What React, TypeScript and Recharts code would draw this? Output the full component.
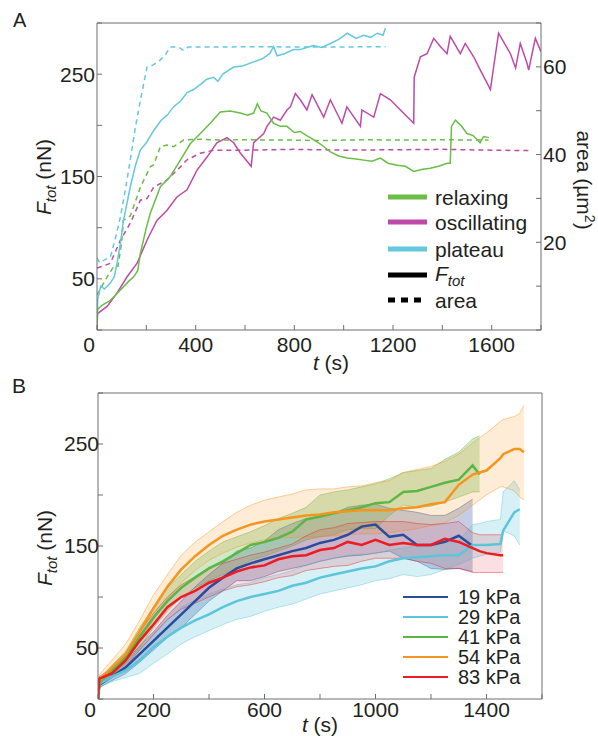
import React from 'react';
import { ComposedChart, Line, Area, XAxis, YAxis } from 'recharts';

const INK = '#231f20';
const AXIS = '#6d6e71';
const FONT = '"Liberation Sans", Arial, Helvetica, sans-serif';

// ---- panel A: single-cell traces (t in s, F in nN, area in um^2)
const GREEN_A = '#6abd45';
const MAGENTA_A = '#bd4aa8';
const CYAN_A = '#64c8df';

const plateauT = [0, 3, 15, 30, 54, 70, 81, 95, 107, 120, 135, 155, 176, 200, 230, 260, 285, 310, 340, 365, 392, 420, 445, 473, 490, 510, 554, 590, 635, 670, 700, 716, 730, 760, 797, 824, 850, 878, 910, 946, 980, 1015, 1050, 1081, 1110, 1136, 1160, 1169];
const plateauF = [0, 30, 43, 40, 46, 52, 65, 85, 107, 122, 140, 160, 176, 183, 195, 205, 210, 218, 224, 232, 235, 240, 245, 247, 243, 250, 257, 258, 262, 265, 270, 277, 268, 270, 274, 274, 276, 278, 276, 280, 284, 290, 285, 288, 286, 290, 288, 295];
const plateauAreaT = [0, 12, 30, 54, 75, 95, 115, 135, 155, 176, 203, 230, 257, 280, 297, 330, 350, 370, 400, 500, 600, 700, 800, 900, 1000, 1100, 1170];
const plateauArea = [16.4, 15.3, 16, 16.6, 21, 25.8, 32, 38.8, 46, 52.4, 60, 60.5, 61.6, 63, 64.5, 64.5, 63.8, 64.5, 64.5, 64.5, 64.6, 64.6, 64.5, 64.5, 64.5, 64.6, 64.6];

const relaxT = [0, 2, 20, 54, 95, 130, 149, 165, 176, 200, 216, 257, 297, 338, 378, 419, 459, 500, 540, 581, 610, 635, 650, 665, 689, 716, 743, 770, 800, 824, 850, 878, 910, 946, 980, 1015, 1050, 1081, 1115, 1149, 1180, 1217, 1250, 1284, 1320, 1351, 1385, 1419, 1432, 1437, 1453, 1475, 1500, 1525, 1541, 1553, 1567, 1589];
const relaxF = [0, 20, 24, 29, 39, 48, 52, 58, 75, 100, 114, 140, 150, 166, 182, 192, 202, 213, 214, 212, 210, 212, 221, 214, 212, 202, 199, 199, 193, 194, 190, 186, 181, 174, 170, 168, 167, 166, 165, 168, 163, 161, 160, 155, 157, 158, 160, 163, 163, 199, 205, 200, 192, 190, 186, 183, 189, 188];
const relaxAreaT = [0, 20, 40, 67, 85, 100, 107, 135, 160, 176, 216, 230, 257, 284, 310, 351, 419, 500, 600, 700, 800, 900, 1000, 1100, 1200, 1300, 1400, 1500, 1587];
const relaxArea = [8, 10, 12, 14.4, 14.5, 20, 25, 26, 30, 32.6, 37.2, 37.7, 41.8, 42.2, 41.8, 43.3, 43.5, 43.3, 43.4, 43.3, 43.3, 43.2, 43.3, 43.4, 43.3, 43.3, 43.4, 43.3, 43.3];

const oscT = [0, 2, 41, 81, 122, 162, 203, 243, 284, 324, 365, 405, 446, 486, 527, 554, 581, 615, 625, 635, 676, 689, 716, 743, 770, 784, 804, 824, 851, 872, 919, 946, 993, 1013, 1068, 1074, 1122, 1149, 1189, 1230, 1284, 1286, 1311, 1338, 1365, 1392, 1419, 1432, 1473, 1493, 1527, 1554, 1595, 1608, 1628, 1676, 1697, 1716, 1743, 1750, 1777, 1800];
const oscF = [0, 16, 23, 36, 52, 65, 88, 107, 117, 130, 137, 156, 169, 183, 188, 183, 173, 163, 160, 183, 192, 199, 208, 205, 215, 218, 231, 225, 215, 230, 208, 225, 202, 218, 199, 215, 208, 231, 225, 215, 202, 247, 267, 270, 285, 277, 270, 287, 270, 280, 267, 254, 235, 257, 290, 270, 256, 280, 261, 254, 285, 272];
const oscAreaT = [0, 54, 95, 135, 176, 203, 230, 284, 338, 365, 419, 473, 600, 800, 1000, 1200, 1400, 1600, 1757];
const oscArea = [14.1, 15.2, 20.5, 24.4, 29.6, 30, 32.6, 34.2, 37.2, 38.8, 40.3, 41, 41, 41.2, 41, 41.1, 41.2, 41, 40.9];

const A_XTICKS = [0, 200, 400, 600, 800, 1000, 1200, 1400, 1600, 1800];
const A_XLABELS = [0, 400, 800, 1200, 1600];
const F_TICKS = [0, 50, 100, 150, 200, 250, 300];
const F_LABELS = [50, 150, 250];
const AREA_TICKS = [0, 10, 20, 30, 40, 50, 60, 70];
const AREA_LABELS = [20, 40, 60];

// ---- panel B: mean +/- band per substrate stiffness
const TB = [0, 5, 50, 100, 150, 200, 250, 300, 350, 400, 450, 500, 550, 600, 650, 700, 750, 800, 850, 900, 950, 1000, 1050, 1100, 1150, 1200, 1250, 1300, 1350, 1375, 1400, 1450, 1460, 1500, 1520, 1535];

const k19Mean = [0, 14, 22, 31, 44, 57, 70, 83, 96, 109, 119, 128, 133, 137, 141, 145, 148, 153, 156, 161, 169, 171, 159, 161, 151, 151, 154, 160, 150];
const k19Hi = [0, 17, 26, 37, 52, 66, 82, 96, 110, 122, 133, 145, 148, 155, 166, 172, 177, 178, 182, 188, 190, 191, 187, 185, 183, 180, 180, 187, 196];
const k19Lo = [0, 11, 18, 25, 36, 48, 60, 70, 83, 96, 106, 116, 116, 120, 125, 128, 131, 135, 138, 140, 141, 143, 145, 138, 135, 128, 127, 128, 125];

const k29Mean = [0, 15, 22, 28, 38, 51, 61, 70, 77, 83, 90, 96, 100, 103, 106, 111, 114, 119, 122, 125, 128, 130, 135, 138, 139, 140, 141, 141, 151, 151, 151, 152, 165, 183, 186];
const k29Hi = [0, 17, 26, 35, 48, 64, 77, 90, 97, 103, 108, 112, 114, 119, 122, 126, 131, 135, 138, 141, 142, 143, 146, 148, 150, 152, 154, 155, 171, 172, 174, 176, 203, 214, 205];
const k29Lo = [0, 12, 17, 21, 25, 35, 44, 54, 61, 67, 73, 78, 81, 86, 90, 93, 98, 103, 106, 109, 112, 116, 118, 122, 120, 122, 127, 132, 138, 140, 142, 144, 165, 160, 151];

const k41Mean = [0, 16, 28, 41, 61, 80, 96, 109, 119, 128, 135, 143, 151, 154, 158, 164, 176, 179, 182, 185, 188, 192, 193, 203, 204, 208, 212, 215, 229, 220];
const k41Hi = [0, 20, 33, 47, 70, 90, 109, 122, 135, 145, 154, 159, 164, 170, 177, 182, 188, 200, 203, 205, 208, 211, 216, 222, 224, 226, 235, 242, 255, 258];
const k41Lo = [0, 12, 23, 35, 50, 70, 86, 100, 109, 116, 122, 128, 136, 140, 145, 150, 156, 159, 161, 166, 167, 167, 180, 190, 188, 189, 193, 198, 203, 203];

const k54Mean = [0, 18, 31, 44, 66, 89, 110, 127, 140, 151, 160, 166, 171, 174, 176, 178, 180, 181, 183, 184, 185, 185, 185, 187, 188, 191, 193, 210, 220, 222, 224, 236, 240, 245, 245, 242];
const k54Hi = [0, 24, 38, 54, 77, 102, 122, 141, 154, 164, 174, 183, 190, 195, 198, 201, 205, 206, 206, 208, 209, 212, 214, 222, 225, 228, 233, 240, 251, 256, 261, 272, 274, 277, 280, 288];
const k54Lo = [0, 14, 25, 36, 57, 78, 98, 114, 126, 136, 143, 149, 153, 156, 158, 158, 159, 159, 160, 161, 162, 162, 163, 165, 167, 170, 173, 180, 190, 195, 200, 208, 208, 204, 198, 195];

const k83Mean = [0, 20, 25, 38, 57, 73, 90, 100, 106, 114, 119, 125, 129, 131, 137, 140, 141, 146, 148, 154, 151, 156, 151, 153, 151, 151, 157, 154, 148, 145, 143, 141, 141];
const k83Hi = [0, 22, 30, 45, 66, 84, 100, 112, 120, 129, 133, 137, 141, 144, 148, 152, 160, 166, 168, 172, 173, 174, 174, 174, 172, 171, 172, 174, 163, 161, 161, 161, 161];
const k83Lo = [0, 17, 21, 32, 48, 63, 78, 88, 94, 100, 106, 110, 112, 115, 119, 121, 126, 128, 130, 131, 135, 138, 138, 138, 135, 133, 128, 128, 124, 124, 124, 124, 124];

const B_XTICKS = [0, 200, 400, 600, 800, 1000, 1200, 1400, 1600];
const B_XLABELS = [0, 200, 600, 1000, 1400];

const SERIES_B = [
  { key: 'k19', name: '19 kPa', color: '#2b4c9b', fillOpacity: 0.28, mean: k19Mean, hi: k19Hi, lo: k19Lo },
  { key: 'k29', name: '29 kPa', color: '#5bc5da', fillOpacity: 0.25, mean: k29Mean, hi: k29Hi, lo: k29Lo },
  { key: 'k41', name: '41 kPa', color: '#5cb646', fillOpacity: 0.3, mean: k41Mean, hi: k41Hi, lo: k41Lo },
  { key: 'k54', name: '54 kPa', color: '#f7941d', fillOpacity: 0.18, mean: k54Mean, hi: k54Hi, lo: k54Lo },
  { key: 'k83', name: '83 kPa', color: '#ed1c24', fillOpacity: 0.14, mean: k83Mean, hi: k83Hi, lo: k83Lo },
];

const pts = (t: number[], v: number[]) => t.map((x, i) => ({ t: x, v: v[i] }));

const rowsB = TB.map((t, i) => {
  const row: any = { t };
  SERIES_B.forEach(s => {
    const m = s.mean[i];
    row[s.key] = m ?? null;
    row[s.key + 'Band'] = m == null ? null : [s.lo[i], s.hi[i]];
  });
  return row;
});

const XTick = (props: any) => {
  const { x, y, payload, labels } = props;
  if (!labels.includes(payload.value)) return null;
  return (
    <text x={payload.value === 0 ? x - 8 : x} y={y + 15} textAnchor="middle" fill={INK} fontSize={21}>
      {payload.value}
    </text>
  );
};

const only = (list: number[]) => (v: number) => (list.includes(v) ? String(v) : '');

const abs = (left: number, top: number, extra: React.CSSProperties = {}): React.CSSProperties => ({
  position: 'absolute', left, top, whiteSpace: 'nowrap', color: INK, fontSize: 21, lineHeight: 1, ...extra,
});

const Ftot = () => (
  <>
    <i>F</i>
    <sub style={{ fontSize: 15, verticalAlign: -5 }}><i>tot</i></sub>
  </>
);

export default function App() {
  const axisCommon = { stroke: AXIS, tickSize: -5, interval: 0 as const, allowDataOverflow: true };
  return (
    <div style={{ position: 'absolute', left: 0, top: 0, width: 598, height: 736, background: '#fff', fontFamily: FONT, overflow: 'hidden' }}>
      {/* ---------------- A ---------------- */}
      <div style={{ position: 'absolute', left: 0, top: 0 }}>
        <ComposedChart width={598} height={370} margin={{ top: 22, right: 0, bottom: 10, left: 0 }}>
          <XAxis xAxisId="b" dataKey="t" type="number" domain={[0, 1800]} ticks={A_XTICKS} height={30}
            tickMargin={12} tick={<XTick labels={A_XLABELS} />} {...axisCommon} />
          <XAxis xAxisId="top" orientation="top" dataKey="t" type="number" domain={[0, 1800]} ticks={A_XTICKS}
            height={1} tick={false} {...axisCommon} />
          <YAxis yAxisId="F" type="number" domain={[0, 300]} ticks={F_TICKS} width={97} tickMargin={7}
            tickFormatter={only(F_LABELS)} tick={{ fill: INK, fontSize: 21 }} {...axisCommon} />
          <YAxis yAxisId="A" orientation="right" type="number" domain={[0, 70]} ticks={AREA_TICKS} width={57} tickMargin={7}
            tickFormatter={only(AREA_LABELS)} tick={{ fill: INK, fontSize: 21, textAnchor: 'start' }} {...axisCommon} />

          <Line xAxisId="b" yAxisId="A" data={pts(plateauAreaT, plateauArea)} dataKey="v" stroke={CYAN_A} strokeWidth={1.5} strokeDasharray="5 4" dot={false} isAnimationActive={false} />
          <Line xAxisId="b" yAxisId="A" data={pts(relaxAreaT, relaxArea)} dataKey="v" stroke={GREEN_A} strokeWidth={1.5} strokeDasharray="5 4" dot={false} isAnimationActive={false} />
          <Line xAxisId="b" yAxisId="A" data={pts(oscAreaT, oscArea)} dataKey="v" stroke={MAGENTA_A} strokeWidth={1.5} strokeDasharray="5 4" dot={false} isAnimationActive={false} />
          <Line xAxisId="b" yAxisId="F" data={pts(plateauT, plateauF)} dataKey="v" stroke={CYAN_A} strokeWidth={1.5} dot={false} isAnimationActive={false} />
          <Line xAxisId="b" yAxisId="F" data={pts(oscT, oscF)} dataKey="v" stroke={MAGENTA_A} strokeWidth={1.5} dot={false} isAnimationActive={false} />
          <Line xAxisId="b" yAxisId="F" data={pts(relaxT, relaxF)} dataKey="v" stroke={GREEN_A} strokeWidth={1.5} dot={false} isAnimationActive={false} />
        </ComposedChart>
      </div>

      <div style={abs(13, 10, { fontSize: 20 })}>A</div>
      <div style={abs(331, 352, { transform: 'translateX(-50%)' })}><i>t</i> (s)</div>
      <div style={abs(45, 177, { transform: 'translate(-50%, -50%) rotate(-90deg)' })}><Ftot /> (nN)</div>
      <div style={abs(585, 180, { transform: 'translate(-50%, -50%) rotate(90deg)' })}>area (µm<sup style={{ fontSize: 14, verticalAlign: 8 }}>2</sup>)</div>

      {[
        { label: 'relaxing', color: GREEN_A, dash: false },
        { label: 'oscillating', color: MAGENTA_A, dash: false },
        { label: 'plateau', color: CYAN_A, dash: false },
        { label: 'Ftot', color: '#000', dash: false },
        { label: 'area', color: '#000', dash: true },
      ].map((e, i) => (
        <div key={e.label} style={abs(387, [197, 222, 249, 275, 300][i] - 11, { display: 'flex', alignItems: 'center', height: 22 })}>
          <svg width={42} height={8} style={{ marginRight: 6 }}>
            <line x1={1} y1={4} x2={40} y2={4} stroke={e.color} strokeWidth={5} strokeDasharray={e.dash ? '7 6' : undefined} />
          </svg>
          <span>{e.label === 'Ftot' ? <Ftot /> : e.label}</span>
        </div>
      ))}

      {/* ---------------- B ---------------- */}
      <div style={{ position: 'absolute', left: 0, top: 370 }}>
        <ComposedChart width={598} height={366} data={rowsB} margin={{ top: 22, right: 0, bottom: 7, left: 0 }}>
          <XAxis xAxisId="b" dataKey="t" type="number" domain={[0, 1600]} ticks={B_XTICKS} height={30}
            tickMargin={8} tick={<XTick labels={B_XLABELS} />} {...axisCommon} />
          <XAxis xAxisId="top" orientation="top" dataKey="t" type="number" domain={[0, 1600]} ticks={B_XTICKS}
            height={1} tick={false} {...axisCommon} />
          <YAxis yAxisId="F" type="number" domain={[0, 300]} ticks={F_TICKS} width={98} tickMargin={4}
            tickFormatter={only(F_LABELS)} tick={{ fill: INK, fontSize: 21 }} {...axisCommon} />
          <YAxis yAxisId="R" orientation="right" type="number" domain={[0, 300]} ticks={F_TICKS} width={56}
            tick={false} {...axisCommon} />

          {SERIES_B.map(s => (
            <Area key={s.key + 'Band'} xAxisId="b" yAxisId="F" dataKey={s.key + 'Band'} type="linear"
              fill={s.color} fillOpacity={s.fillOpacity} stroke={s.color} strokeOpacity={0.55} strokeWidth={0.8}
              dot={false} activeDot={false} isAnimationActive={false} />
          ))}
          {SERIES_B.map(s => (
            <Line key={s.key} xAxisId="b" yAxisId="F" dataKey={s.key} type="linear" stroke={s.color} strokeWidth={2.5}
              dot={false} activeDot={false} isAnimationActive={false} />
          ))}
        </ComposedChart>
      </div>

      <div style={abs(12, 375, { fontSize: 21 })}>B</div>
      <div style={abs(320, 714, { transform: 'translateX(-50%)' })}><i>t</i> (s)</div>
      <div style={abs(46, 548, { transform: 'translate(-50%, -50%) rotate(-90deg)' })}><Ftot /> (nN)</div>

      {SERIES_B.map((s, i) => (
        <div key={s.key + 'Leg'} style={abs(403, 597 + i * 20 - 9, { display: 'flex', alignItems: 'center', height: 18, fontSize: 20, lineHeight: '18px' })}>
          <svg width={46} height={4} style={{ marginRight: 9 }}>
            <line x1={0} y1={2} x2={45} y2={2} stroke={s.color} strokeWidth={1.8} />
          </svg>
          <span style={{ lineHeight: '18px' }}>{s.name}</span>
        </div>
      ))}
    </div>
  );
}
